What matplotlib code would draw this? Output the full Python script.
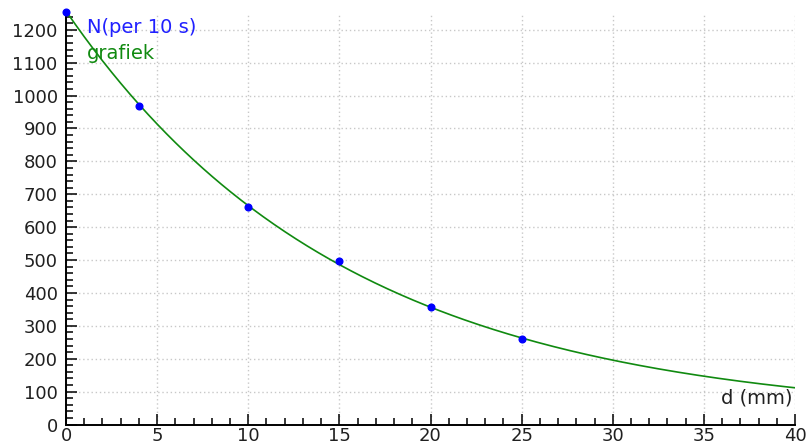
import matplotlib.pyplot as plt
from matplotlib.ticker import MultipleLocator
import numpy as np

# measured points: thickness d (mm) vs counts per 10 s
d_mm      = [0, 4, 10, 15, 20, 25]
counts    = [1254, 969, 662, 496, 358, 260]
background = 20          # level the fitted curve tends to

x_ticks = list(range(0, 41, 5))
y_ticks = list(range(0, 1201, 100))

# fit N = A*exp(-mu*d) + background to the points
slope, icpt = np.polyfit(d_mm, np.log(np.array(counts) - background), 1)
d_fit = np.linspace(0, 40, 400)
n_fit = np.exp(icpt) * np.exp(slope * d_fit) + background

fig = plt.figure(figsize=(8.06, 4.46), dpi=100)
axes = fig.add_axes([66/806, (446-424.5)/446, 729/806, 411.5/446])

axes.plot(d_fit, n_fit, color='#108a10', lw=1.2, zorder=3)
axes.plot(d_mm, counts, 'o', color='#0000ff', ms=4.8, zorder=4, clip_on=False)

axes.set_xlim(0, 40)
axes.set_ylim(0, 1251)
axes.set_xticks(x_ticks)
axes.set_yticks(y_ticks)
axes.xaxis.set_minor_locator(MultipleLocator(1))
axes.yaxis.set_minor_locator(MultipleLocator(20))
axes.tick_params(which='both', direction='in', width=1.1, colors='black',
                 labelsize=13, labelcolor='#202020')
axes.tick_params(which='major', length=8)
axes.tick_params(which='minor', length=5)
axes.tick_params(axis='y', pad=6)
axes.tick_params(axis='x', pad=2)
axes.grid(which='major', color='#c8c8c8', ls=(0, (1, 2)), lw=1.0)

for side in ('top', 'right'):
    axes.spines[side].set_visible(False)
for side in ('left', 'bottom'):
    axes.spines[side].set_linewidth(1.4)

axes.text(0.029, 0.952, 'N(per 10 s)', transform=axes.transAxes, color='#2020ff',
          fontsize=14, va='baseline', ha='left')
axes.text(0.029, 0.888, 'grafiek', transform=axes.transAxes, color='#108a10',
          fontsize=14, va='baseline', ha='left')
axes.text(0.996, 0.050, 'd (mm)', transform=axes.transAxes, color='#202020',
          fontsize=14, va='baseline', ha='right')

fig.savefig('out.png', dpi=100)
